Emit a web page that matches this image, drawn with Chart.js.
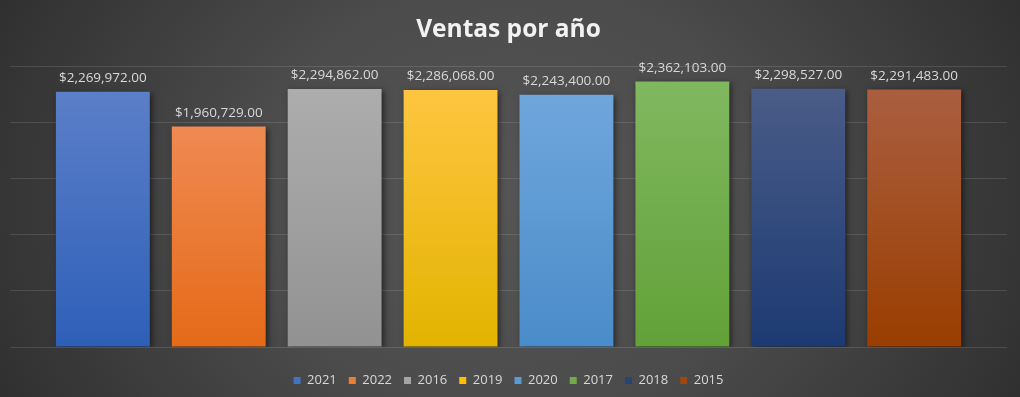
<!DOCTYPE html>
<html>
<head>
<meta charset="utf-8">
<script src="https://cdn.jsdelivr.net/npm/chart.js@4.4.0/dist/chart.umd.min.js"></script>
<style>
    body { margin: 0; background: #2a2a2a; }
    #wrap {
        width: 1020px;
        height: 397px;
        background: radial-gradient(ellipse 62% 130% at 50% 50%, #555555 0%, #4c4c4c 40%, #2a2a2a 100%);
    }
</style>
</head>
<body>
<div id="wrap"><canvas id="myChart"></canvas></div>
<script>
// datos
const anios = ['2021', '2022', '2016', '2019', '2020', '2017', '2018', '2015'];
const ventas = [2269972, 1960729, 2294862, 2286068, 2243400, 2362103, 2298527, 2291483];
const categoria = ['Ventas'];

// colores (arriba / abajo / leyenda)
const colorArriba = ['#5b7fc8', '#ef8a52', '#adadad', '#fec540', '#6fa7dc', '#80b860', '#4a5c88', '#aa5e40'];
const colorAbajo  = ['#2e5fb8', '#e56a18', '#929292', '#e2b400', '#4a8bc9', '#62a138', '#1c3a72', '#9a3e00'];
const colorLeyenda = ['#4472c4', '#ed7d31', '#a5a5a5', '#ffc000', '#5b9bd5', '#70ad47', '#264478', '#9e480e'];

function degradado(i) {
    return function (context) {
        const chart = context.chart;
        const area = chart.chartArea;
        if (!area) return colorLeyenda[i];
        const y = chart.scales.y;
        const top = y.getPixelForValue(ventas[i]);
        const g = chart.ctx.createLinearGradient(0, top, 0, area.bottom);
        g.addColorStop(0, colorArriba[i]);
        g.addColorStop(1, colorAbajo[i]);
        return g;
    };
}

const datasets = anios.map((anio, i) => ({
    label: anio,
    data: [ventas[i]],
    backgroundColor: degradado(i),
    borderWidth: 0
}));

// sombra de las barras
const sombra = {
    id: 'sombra',
    beforeDatasetsDraw(chart) {
        const ctx = chart.ctx;
        ctx.save();
        ctx.shadowColor = 'rgba(0,0,0,0.55)';
        ctx.shadowBlur = 6;
        ctx.shadowOffsetX = 2;
        ctx.shadowOffsetY = 2;
    },
    afterDatasetsDraw(chart) {
        chart.ctx.restore();
    }
};

// etiquetas de valor arriba de cada barra
const etiquetas = {
    id: 'etiquetas',
    afterDraw(chart) {
        const ctx = chart.ctx;
        ctx.save();
        ctx.font = '13.5px "Open Sans"';
        ctx.fillStyle = '#d9d9d9';
        ctx.textAlign = 'center';
        ctx.textBaseline = 'bottom';
        chart.data.datasets.forEach((ds, i) => {
            const bar = chart.getDatasetMeta(i).data[0];
            const txt = '$' + ds.data[0].toLocaleString('en-US', { minimumFractionDigits: 2 });
            ctx.fillText(txt, bar.x, bar.y - 7);
        });
        ctx.restore();
    }
};

new Chart(document.getElementById('myChart'), {
    type: 'bar',
    data: {
        labels: categoria,
        datasets: datasets
    },
    options: {
        responsive: true,
        maintainAspectRatio: false,
        animation: false,
        categoryPercentage: 0.93,
        barPercentage: 0.81,
        layout: { padding: { left: 10, right: 13, bottom: 0 } },
        scales: {
            x: {
                display: true,
                ticks: { display: false },
                grid: { display: false },
                border: { display: false },
                afterFit(scale) { scale.height = 15; }
            },
            y: {
                min: 0,
                max: 2500000,
                ticks: { display: false, stepSize: 500000 },
                grid: { color: 'rgba(255,255,255,0.12)', drawTicks: false },
                border: { display: false }
            }
        },
        plugins: {
            title: {
                display: true,
                text: 'Ventas por año',
                color: '#f2f2f2',
                font: { family: 'Open Sans', size: 24.5, weight: 'bold' },
                padding: { top: 15, bottom: 21.6 }
            },
            legend: {
                position: 'bottom',
                labels: {
                    color: '#d9d9d9',
                    font: { family: 'Open Sans', size: 13 },
                    boxWidth: 7,
                    boxHeight: 7,
                    padding: 12,
                    generateLabels(chart) {
                        return chart.data.datasets.map((ds, i) => ({
                            text: ds.label,
                            fillStyle: colorLeyenda[i],
                            strokeStyle: colorLeyenda[i],
                            lineWidth: 0,
                            fontColor: '#d9d9d9',
                            datasetIndex: i
                        }));
                    }
                }
            },
            tooltip: { enabled: false }
        }
    },
    plugins: [sombra, etiquetas]
});
</script>
</body>
</html>
